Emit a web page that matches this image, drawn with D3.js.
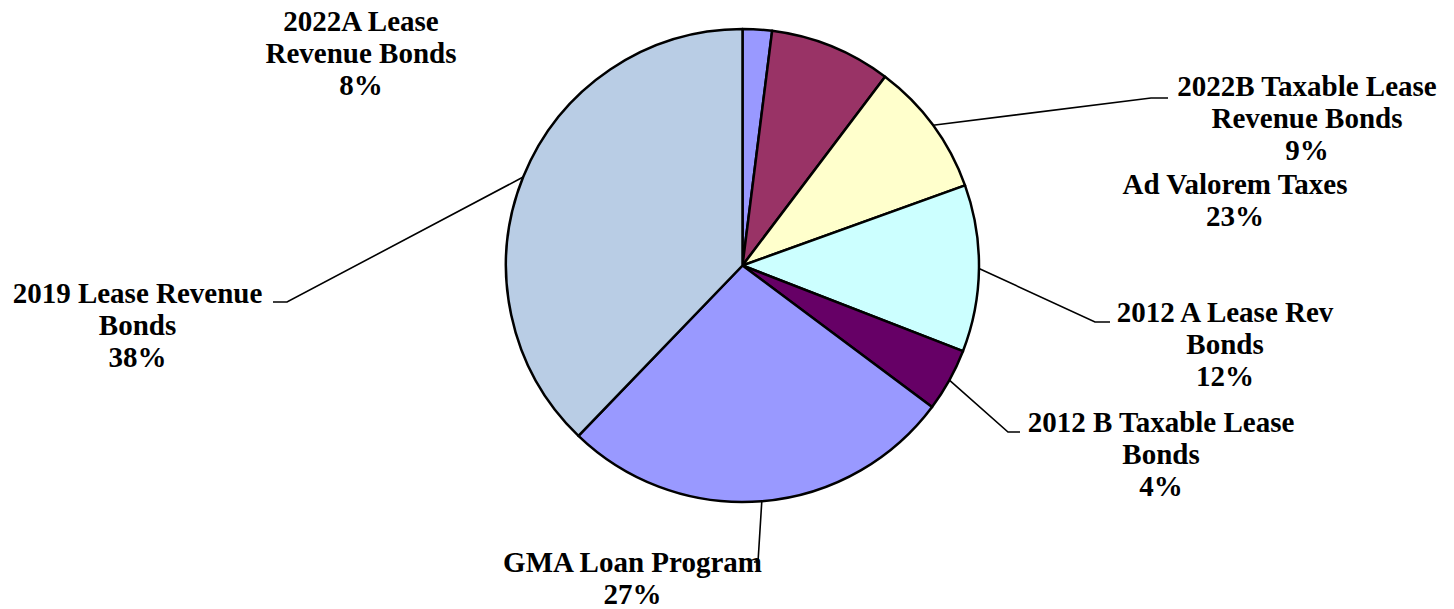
<!DOCTYPE html>
<html>
<head>
<meta charset="utf-8">
<script src="https://cdn.jsdelivr.net/npm/d3@7"></script>
<style>
  html, body { margin: 0; padding: 0; background: #fff; }
  svg { display: block; }
  text { font-family: "Liberation Serif", "Times New Roman", serif; font-weight: bold; font-size: 29px; fill: #000; }
</style>
</head>
<body>
<svg id="chart" width="1454" height="609"></svg>
<script>
// ---- data (clockwise from 12 o'clock) ----
const categories = ["Ad Valorem Taxes", "2022A Lease Revenue Bonds", "2022B Taxable Lease Revenue Bonds",
                    "2012 A Lease Rev Bonds", "2012 B Taxable Lease Bonds", "GMA Loan Program", "2019 Lease Revenue Bonds"];
const values = [2.0, 8.3, 9.2, 11.4, 4.3, 27.0, 37.8];
const pctLabels = ["23%", "8%", "9%", "12%", "4%", "27%", "38%"];
const labelLines = [
  ["Ad Valorem Taxes"],
  ["2022A Lease", "Revenue Bonds"],
  ["2022B Taxable Lease", "Revenue Bonds"],
  ["2012 A Lease Rev", "Bonds"],
  ["2012 B Taxable Lease", "Bonds"],
  ["GMA Loan Program"],
  ["2019 Lease Revenue", "Bonds"]
];
const colors = ["#9999FF", "#993366", "#FFFFCC", "#CCFFFF", "#660066", "#9999FF", "#B9CDE5"];

// ---- layout (positions only) ----
const cx = 742.5, cy = 265.5, R = 236.5;
const lineH = 32;
const labelPos = [
  { x: 1235, y: 194 },
  { x: 361,  y: 31 },
  { x: 1307, y: 96 },
  { x: 1225, y: 322 },
  { x: 1161, y: 432 },
  { x: 632.5, y: 572 },
  { x: 137.5, y: 303 }
];
const leaders = [
  null,
  null,
  [[1151, 98], [1168, 98]],
  [[1095, 322], [1110, 322]],
  [[1008, 432], [1020, 432]],
  [[758, 562], [754, 562]],
  [[287, 302], [273, 302]]
];

const svg = d3.select("#chart");
const g = svg.append("g").attr("transform", `translate(${cx},${cy})`);

const pie = d3.pie().sort(null).value(d => d)(values);
const arc = d3.arc().innerRadius(0).outerRadius(R);

g.selectAll("path.slice")
  .data(pie)
  .join("path")
  .attr("class", "slice")
  .attr("d", arc)
  .attr("fill", (d, i) => colors[i])
  .attr("stroke", "#000")
  .attr("stroke-width", 2.5)
  .attr("stroke-linejoin", "round");

// leader lines
pie.forEach((d, i) => {
  if (!leaders[i]) return;
  const a = (d.startAngle + d.endAngle) / 2;
  const start = [cx + R * Math.sin(a), cy - R * Math.cos(a)];
  const pts = [start].concat(leaders[i]);
  svg.append("path")
    .attr("d", d3.line()(pts))
    .attr("fill", "none")
    .attr("stroke", "#000")
    .attr("stroke-width", 1.6);
});

// labels
categories.forEach((c, i) => {
  const lines = labelLines[i].concat([pctLabels[i]]);
  const t = svg.append("text")
    .attr("text-anchor", "middle")
    .attr("x", labelPos[i].x)
    .attr("y", labelPos[i].y);
  lines.forEach((ln, k) => {
    t.append("tspan")
      .attr("x", labelPos[i].x)
      .attr("y", labelPos[i].y + k * lineH)
      .text(ln);
  });
});
</script>
</body>
</html>
